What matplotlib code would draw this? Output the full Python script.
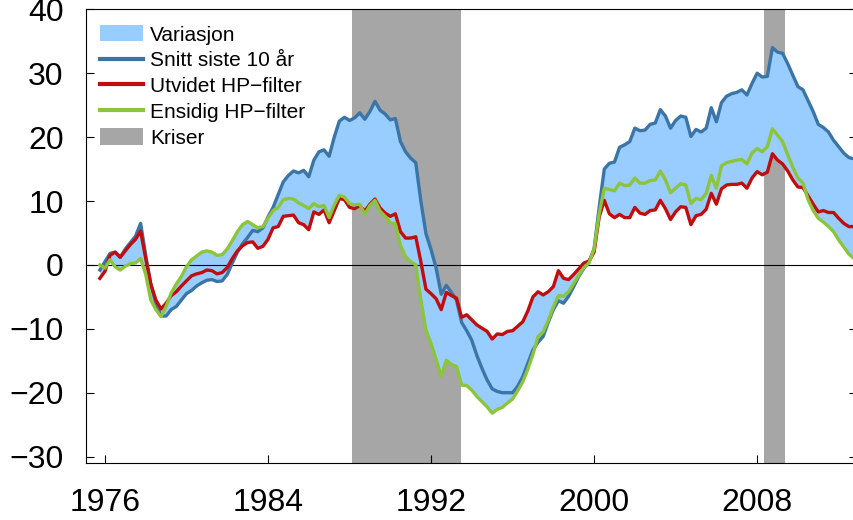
import numpy as np
import matplotlib
matplotlib.use("Agg")
import matplotlib.pyplot as plt
from matplotlib.patches import Patch
from matplotlib.lines import Line2D

plt.rcParams['font.family'] = ['Liberation Sans', 'DejaVu Sans']

# quarterly observations, 1975Q4 - 2012Q4
quarters = np.arange(1975.75, 2012.76, 0.25)

snitt = [
    -0.8, 0.5, 1.8, 2.0, 1.2, 2.5, 3.5, 4.5, 6.5, 1.5, -3.0, -6.0, -8.0, -8.0, -7.0, -6.5, -5.5,
    -4.5, -4.0, -3.3, -2.8, -2.4, -2.3, -2.6, -2.5, -1.5, 0.3, 2.0, 3.3, 4.3, 5.4, 5.2, 5.8, 7.5, 9.0, 11.0, 13.0,
    14.0, 14.7, 14.4, 14.8, 13.8, 16.4, 17.7, 18.0, 17.0, 20.0, 22.5, 23.1, 22.6, 23.0, 23.8, 22.8, 24.0, 25.6, 24.2, 23.6,
    22.7, 22.9, 19.3, 17.7, 16.7, 16.0, 10.0, 4.9, 2.4, -0.5, -4.6, -3.2, -4.3, -5.5, -9.0, -10.3, -11.8, -14.2, -16.2, -18.0,
    -19.4, -19.8, -20.0, -20.0, -20.0, -19.0, -17.5, -15.4, -13.3, -12.1, -11.2, -9.0, -7.0, -5.6, -6.0, -4.9, -3.4, -1.8, -0.5, 0.5,
    2.5, 9.0, 15.0, 15.9, 16.1, 18.4, 18.8, 19.3, 21.4, 21.0, 21.1, 22.0, 22.2, 24.3, 23.3, 21.4, 22.6, 23.3, 23.1, 20.1,
    21.2, 20.8, 21.4, 24.6, 22.4, 25.4, 26.4, 26.8, 27.0, 27.4, 26.6, 28.4, 30.0, 29.4, 29.5, 34.0, 33.3, 33.1, 31.5, 29.7,
    27.9, 27.4, 25.7, 24.0, 22.0, 21.5, 20.8, 19.5, 18.5, 17.5, 16.8, 16.6,
]

utvidet = [
    -2.1, -1.0, 1.5, 2.0, 1.2, 2.2, 3.2, 4.0, 5.3, 1.0, -3.0, -5.5, -6.9, -6.0, -4.8, -4.2, -3.3,
    -2.5, -1.7, -1.4, -1.2, -0.8, -0.9, -1.4, -1.2, -0.4, 1.0, 2.2, 3.0, 3.5, 3.6, 2.6, 2.9, 4.0, 5.8, 6.0, 7.6,
    7.7, 7.8, 6.6, 6.3, 5.5, 8.3, 7.9, 8.6, 6.6, 8.5, 10.4, 10.2, 9.0, 8.8, 9.3, 8.4, 9.5, 10.3, 8.9, 8.1,
    7.6, 8.0, 5.2, 4.2, 4.2, 4.4, 0.5, -3.8, -4.5, -5.3, -7.0, -4.3, -4.8, -5.2, -8.2, -7.8, -8.6, -9.4, -9.9, -10.4,
    -11.6, -10.8, -10.9, -10.4, -10.3, -9.6, -8.9, -7.2, -5.0, -4.2, -4.7, -4.2, -3.4, -0.9, -2.1, -2.3, -1.5, -0.6, 0.3, 0.6,
    2.0, 7.5, 10.1, 8.0, 7.4, 7.9, 7.4, 7.4, 9.0, 8.1, 7.9, 8.5, 8.6, 10.1, 8.8, 7.1, 8.3, 9.1, 9.0, 6.3,
    7.7, 7.9, 8.7, 11.2, 9.5, 11.9, 12.5, 12.6, 12.6, 12.8, 12.0, 13.6, 14.6, 14.1, 14.5, 17.4, 16.4, 15.8, 14.7, 13.3,
    12.2, 12.1, 10.8, 9.5, 8.3, 8.5, 8.2, 8.2, 7.3, 6.5, 6.0, 6.0,
]

ensidig = [
    0.0, -0.5, 0.8, -0.3, -0.8, -0.2, 0.2, 0.3, 1.0, -1.5, -5.5, -7.0, -8.1, -6.5, -4.4, -3.0, -1.8,
    -0.3, 0.8, 1.4, 2.0, 2.2, 2.0, 1.5, 1.6, 2.5, 3.8, 5.2, 6.3, 6.8, 6.3, 5.8, 6.0, 7.3, 8.5, 9.0, 10.2,
    10.4, 10.3, 9.7, 9.3, 8.8, 9.6, 9.1, 9.3, 7.4, 9.4, 10.9, 10.6, 9.6, 9.4, 9.5, 7.9, 9.3, 10.1, 8.4, 7.6,
    6.6, 6.4, 3.0, 1.3, 0.5, 0.0, -5.5, -10.2, -12.3, -14.8, -17.4, -14.9, -15.6, -15.9, -18.8, -18.9, -19.6, -20.6, -21.4, -22.2,
    -23.2, -22.6, -22.3, -21.6, -21.0, -19.7, -18.3, -16.3, -14.0, -11.2, -10.5, -8.7, -6.6, -4.8, -4.9, -4.2, -2.9, -1.6, -0.4, 0.3,
    2.5, 8.0, 12.0, 11.8, 11.6, 12.8, 12.4, 12.5, 13.6, 12.8, 12.8, 13.2, 13.3, 14.7, 13.3, 11.3, 12.0, 12.7, 12.5, 9.6,
    10.4, 10.2, 11.2, 14.0, 12.0, 15.5, 16.0, 16.2, 16.4, 16.5, 15.8, 17.5, 18.2, 17.7, 18.5, 21.3, 20.3, 19.3, 17.2, 15.3,
    13.6, 12.8, 10.2, 8.5, 7.3, 6.7, 6.0, 5.2, 3.9, 2.8, 1.7, 1.0,
]

kriser_start = [1988.1, 2008.35]
kriser_slutt = [1993.45, 2009.37]

xticks = [1976, 1984, 1992, 2000, 2008]
yticks = [-30, -20, -10, 0, 10, 20, 30, 40]

c_fill = '#99ccff'
c_blue = '#3a75a6'
c_red = '#c00d0d'
c_green = '#8cc43c'
c_grey = '#a6a6a6'

serier = np.array([snitt, utvidet, ensidig])
lo = serier.min(axis=0)
hi = serier.max(axis=0)

fig = plt.figure(figsize=(8.54, 5.2), dpi=100)
ax = fig.add_axes([86 / 854, 57 / 520, 771 / 854, 453.7 / 520])

for s, e in zip(kriser_start, kriser_slutt):
    ax.axvspan(s, e, color=c_grey, lw=0, zorder=1)

ax.fill_between(quarters, lo, hi, color=c_fill, lw=0, zorder=2)
ax.axhline(0, color='black', lw=0.8, zorder=3)

ax.plot(quarters, snitt, color=c_blue, lw=2.4, zorder=4)
ax.plot(quarters, utvidet, color=c_red, lw=2.4, zorder=4)
ax.plot(quarters, ensidig, color=c_green, lw=2.4, zorder=4)

ax.set_xlim(1975.07, 2012.9)
ax.set_ylim(-31, 40)
ax.set_xticks(xticks)
ax.set_yticks(yticks)
ax.tick_params(axis='both', direction='in', length=6, width=0.8, labelsize=23)
ax.tick_params(axis='y', right=True, pad=16)
ax.tick_params(axis='x', pad=18)
ax.spines['right'].set_visible(False)
for sp in ['left', 'bottom', 'top']:
    ax.spines[sp].set_linewidth(0.8)

handles = [
    Patch(facecolor=c_fill, edgecolor='none'),
    Line2D([], [], color=c_blue, lw=3),
    Line2D([], [], color=c_red, lw=3),
    Line2D([], [], color=c_green, lw=3),
    Patch(facecolor=c_grey, edgecolor='none'),
]
labels = ['Variasjon', 'Snitt siste 10 år', 'Utvidet HP\u2212filter', 'Ensidig HP\u2212filter', 'Kriser']
ax.legend(handles, labels, loc='upper left', bbox_to_anchor=(0.018, 0.965), frameon=False,
          fontsize=15, borderpad=0, borderaxespad=0, handlelength=2.07, handleheight=0.82,
          handletextpad=0.34, labelspacing=0.31)

fig.savefig('out.png', dpi=100)
